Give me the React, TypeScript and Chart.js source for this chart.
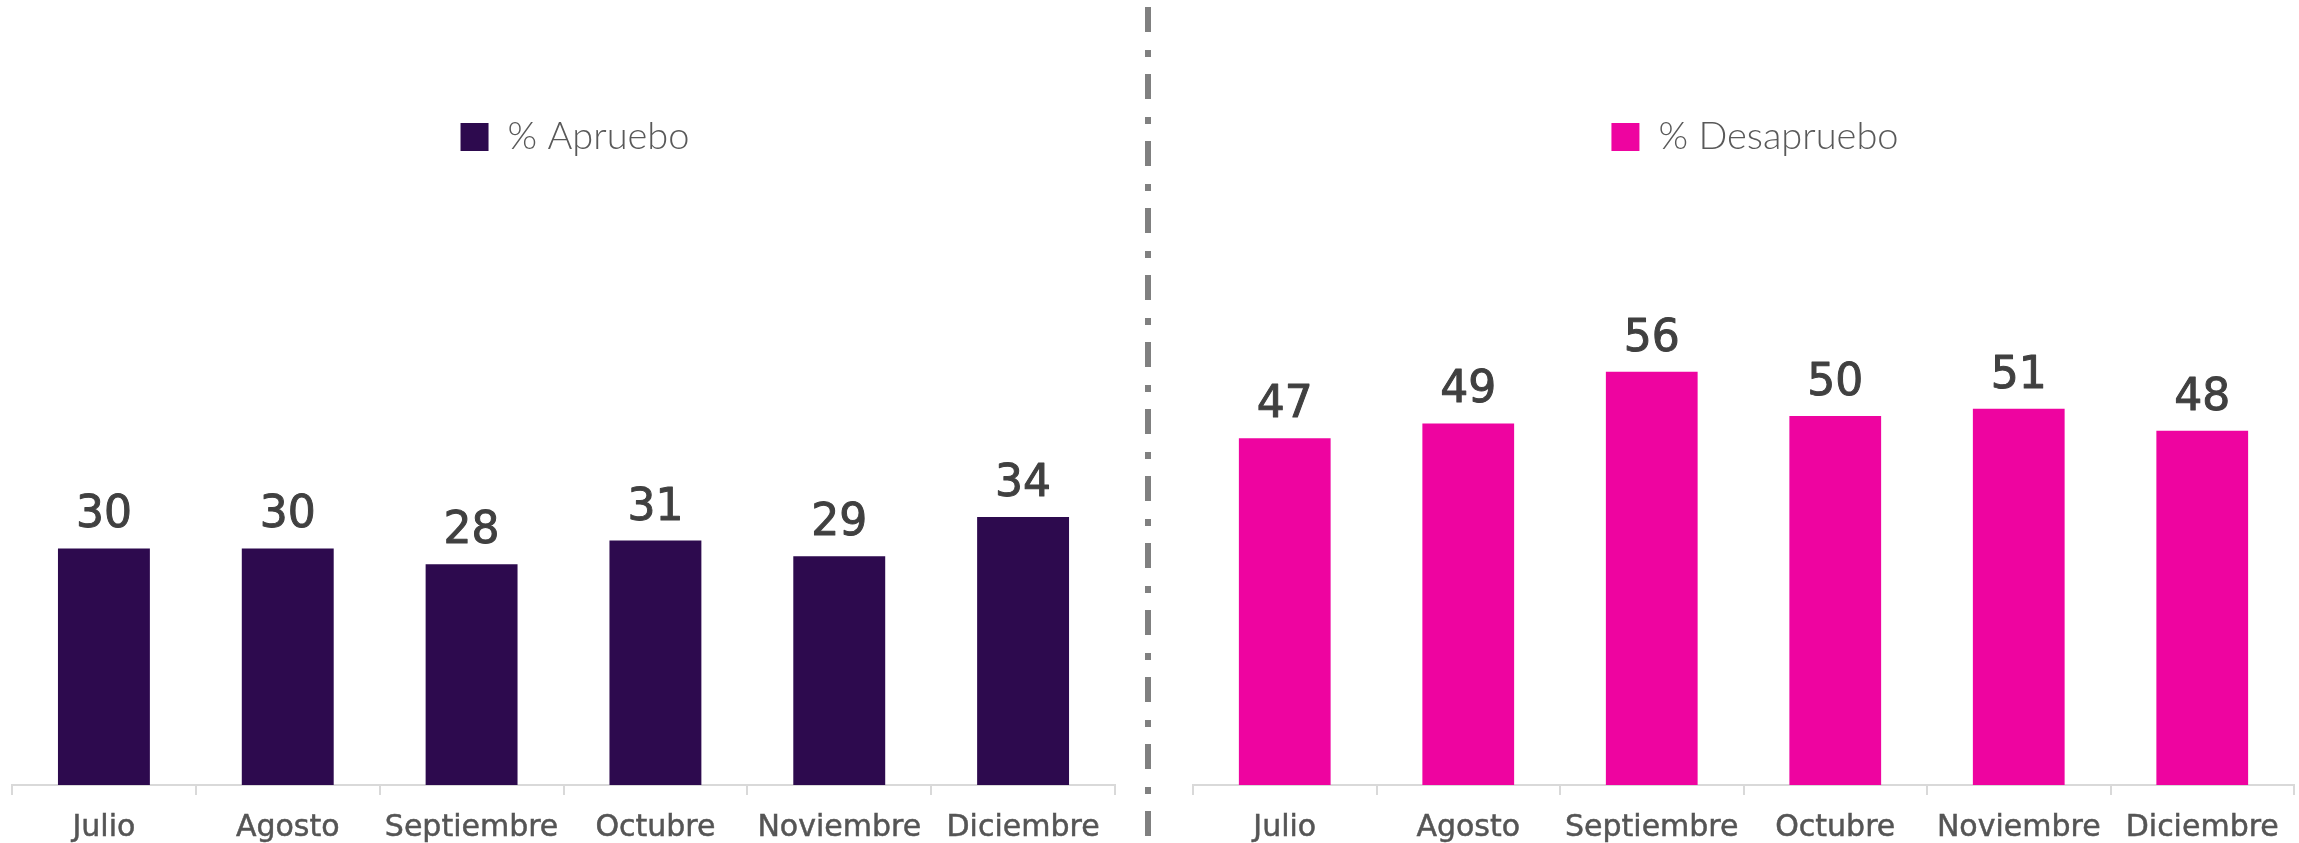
import React, { useEffect, useRef } from "react";
import { Chart, registerables } from "chart.js";

Chart.register(...registerables);

const months = ["Julio", "Agosto", "Septiembre", "Octubre", "Noviembre", "Diciembre"];
const apruebo = [30, 30, 28, 31, 29, 34];
const desapruebo = [47, 49, 56, 50, 51, 48];
const legendApruebo = "% Apruebo";
const legendDesapruebo = "% Desapruebo";

const PURPLE = "#2D0A4E";
const PINK = "#EE04A0";

const valueLabels = {
  id: "valueLabels",
  afterDatasetsDraw(chart: any) {
    const ctx = chart.ctx;
    chart.data.datasets.forEach((ds: any, i: number) => {
      const meta = chart.getDatasetMeta(i);
      meta.data.forEach((bar: any, j: number) => {
        ctx.save();
        ctx.font = '44px "DejaVu Sans"';
        ctx.fillStyle = "#404040";
        ctx.strokeStyle = "#404040";
        ctx.lineWidth = 1;
        ctx.lineJoin = "round";
        ctx.textAlign = "center";
        ctx.textBaseline = "alphabetic";
        const txt = String(ds.data[j]);
        ctx.strokeText(txt, bar.x, bar.y - 21);
        ctx.fillText(txt, bar.x, bar.y - 21);
        ctx.restore();
      });
    });
  },
};

function makeConfig(label: string, data: number[], color: string, yMax: number, padLeft: number): any {
  return {
    type: "bar",
    data: {
      labels: months,
      datasets: [
        {
          label,
          data,
          backgroundColor: color,
          borderWidth: 0,
          barPercentage: 0.5,
          categoryPercentage: 1,
        },
      ],
    },
    options: {
      responsive: false,
      animation: false,
      layout: { padding: { top: 108, left: padLeft, right: 2, bottom: 0 } },
      plugins: {
        tooltip: { enabled: false },
        legend: {
          display: true,
          position: "top",
          labels: {
            boxWidth: 28,
            boxHeight: 28,
            padding: 10,
            color: "#595959",
            font: { family: "Lato", size: 38, weight: "300" },
          },
        },
      },
      scales: {
        x: {
          offset: true,
          grid: {
            display: true,
            offset: true,
            drawOnChartArea: false,
            drawTicks: true,
            tickLength: 10,
            color: "#D9D9D9",
            lineWidth: 2,
          },
          border: { display: true, color: "#D9D9D9", width: 2 },
          ticks: {
            color: "#555555",
            textStrokeColor: "#555555",
            textStrokeWidth: 0.5,
            font: { family: "DejaVu Sans", size: 30 },
            padding: 15,
            autoSkip: false,
            maxRotation: 0,
            minRotation: 0,
          },
        },
        y: {
          position: "right",
          min: 0,
          max: yMax,
          display: true,
          grid: { display: false },
          border: { display: false },
          ticks: { display: false },
          afterFit: (s: any) => {
            s.width = 23;
          },
        },
      },
    },
    plugins: [valueLabels],
  };
}

export default function App() {
  const leftRef = useRef<HTMLCanvasElement>(null);
  const rightRef = useRef<HTMLCanvasElement>(null);

  useEffect(() => {
    document.body.style.margin = "0";
    let cancelled = false;
    let charts: Chart[] = [];
    const build = () => {
      if (cancelled || !leftRef.current || !rightRef.current) return;
      charts.push(new Chart(leftRef.current, makeConfig(legendApruebo, apruebo, PURPLE, 78.5, 12)));
      charts.push(new Chart(rightRef.current, makeConfig(legendDesapruebo, desapruebo, PINK, 83.9, 33)));
    };
    const fontsAny: any = (document as any).fonts;
    if (fontsAny && fontsAny.load) {
      Promise.all([
        fontsAny.load('300 38px "Lato"'),
        fontsAny.load('44px "DejaVu Sans"'),
        fontsAny.load('30px "DejaVu Sans"'),
      ])
        .catch(() => {})
        .then(build);
    } else {
      build();
    }
    return () => {
      cancelled = true;
      charts.forEach((c) => c.destroy());
      charts = [];
    };
  }, []);

  return (
    <div style={{ position: "relative", width: 2299, height: 843, overflow: "hidden", background: "#fff" }}>
      <canvas ref={leftRef} width={1140} height={861} style={{ position: "absolute", left: 0, top: 0 }} />
      <div
        style={{
          position: "absolute",
          left: 1145,
          top: 7,
          width: 6,
          height: 836,
          background:
            "repeating-linear-gradient(to bottom, #808080 0px, #808080 25px, transparent 25px, transparent 43px, #808080 43px, #808080 50px, transparent 50px, transparent 67px)",
        }}
      />
      <canvas ref={rightRef} width={1159} height={861} style={{ position: "absolute", left: 1160, top: 0 }} />
    </div>
  );
}
